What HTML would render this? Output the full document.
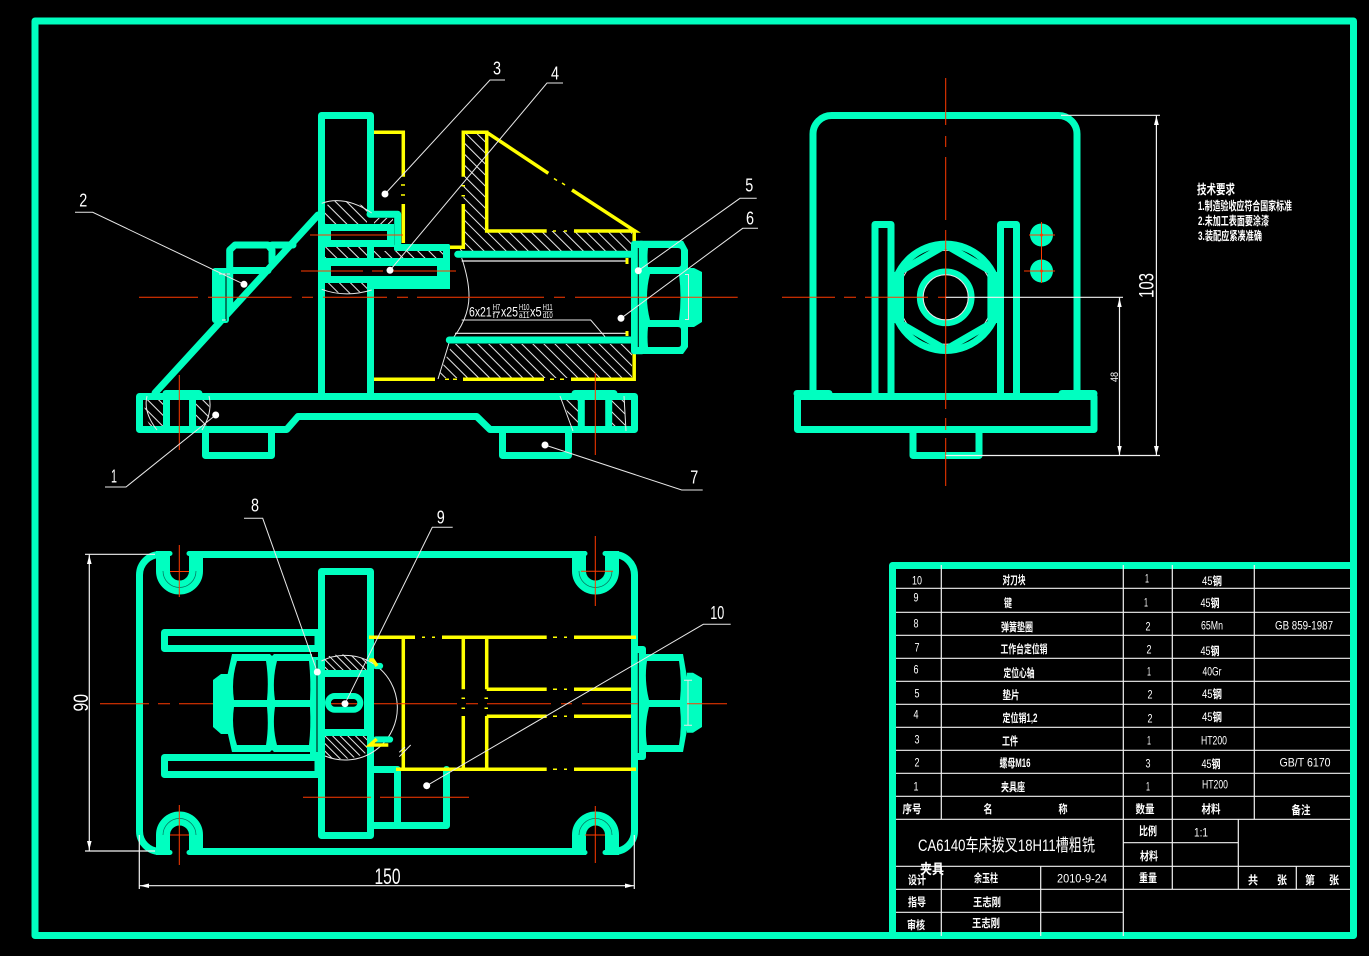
<!DOCTYPE html>
<html lang="zh">
<head>
<meta charset="utf-8">
<title>CA6140 夹具装配图</title>
<style>
html,body{margin:0;padding:0;background:#000;width:1369px;height:956px;overflow:hidden}
svg{display:block}
text{font-family:"Liberation Sans","Noto Sans CJK SC",sans-serif;fill:#fff}
tspan.o{font-weight:400}
.t{fill:none;stroke:#00ffc0;stroke-width:7;stroke-linejoin:round;stroke-linecap:round}
.f{fill:#00ffc0;stroke:none}
.k{fill:#000;stroke:none}
.y{fill:none;stroke:#ffff00;stroke-width:3.5;stroke-linejoin:miter}
.d{fill:none;stroke:#ffff00;stroke-width:1.5}
.r{fill:none;stroke:#ff3a00;stroke-width:1}
.w{fill:none;stroke:#e8e8e8;stroke-width:1}
.b{fill:none;stroke:#f2f2f2;stroke-width:1.2}
.n{font-size:18px}
.c{font-size:11.5px;font-weight:700}
.l{font-size:12px}
</style>
</head>
<body>
<svg width="1369" height="956" viewBox="0 0 1369 956" xmlns="http://www.w3.org/2000/svg">
<defs>
<pattern id="h1" patternUnits="userSpaceOnUse" width="7.8" height="7.8" patternTransform="rotate(-45)"><line x1="1" y1="0" x2="1" y2="7.8" stroke="#e8e8e8" stroke-width="1"/></pattern>
<pattern id="h2" patternUnits="userSpaceOnUse" width="5.4" height="5.4" patternTransform="rotate(-45)"><line x1="1" y1="0" x2="1" y2="5.4" stroke="#e8e8e8" stroke-width="1"/></pattern>
<pattern id="h3" patternUnits="userSpaceOnUse" width="5.4" height="5.4" patternTransform="rotate(45)"><line x1="1" y1="0" x2="1" y2="5.4" stroke="#e8e8e8" stroke-width="1"/></pattern>
<clipPath id="cc"><circle cx="341.7" cy="706.7" r="52.3"/></clipPath>
<clipPath id="cs"><rect x="891" y="230" width="109" height="140"/></clipPath>
</defs>
<rect width="1369" height="956" fill="#000"/>

<!-- frame -->
<rect x="35" y="21" width="1318.5" height="914.5" class="t"/>
<path d="M892.5 935V565.5H1353" class="t"/>

<!-- table -->
<g class="b">
<path d="M896 588.3H1350M896 612.3H1350M896 635.3H1350M896 658.3H1350M896 681.3H1350M896 704.3H1350M896 727.3H1350M896 750.3H1350M896 773.3H1350M896 796.3H1350M896 819.3H1350"/>
<path d="M1123.3 842.7H1238.3M896 866.3H1350M896 889.3H1350M896 912.3H1123.3"/>
<path d="M941.3 565V819.3M1123.3 565V936M1172.3 565V889.3M1254.3 565V819.3M941.3 866.3V936M1040.7 866.3V936M1238.3 819.3V889.3M1296.3 866.3V889.3"/>
</g>
<g text-anchor="middle">
<g class="l">
<text x="917" y="584.5" textLength="10" lengthAdjust="spacingAndGlyphs">10</text><text x="916" y="601.5" textLength="5" lengthAdjust="spacingAndGlyphs">9</text><text x="916" y="627.5" textLength="5" lengthAdjust="spacingAndGlyphs">8</text><text x="917" y="651.5" textLength="5" lengthAdjust="spacingAndGlyphs">7</text><text x="916" y="673.5" textLength="5" lengthAdjust="spacingAndGlyphs">6</text><text x="917" y="697.5" textLength="5" lengthAdjust="spacingAndGlyphs">5</text><text x="916" y="718.5" textLength="5" lengthAdjust="spacingAndGlyphs">4</text><text x="917" y="743.5" textLength="5" lengthAdjust="spacingAndGlyphs">3</text><text x="917" y="766.5" textLength="5" lengthAdjust="spacingAndGlyphs">2</text><text x="916" y="790.5" textLength="5" lengthAdjust="spacingAndGlyphs">1</text>
<text x="1147" y="582.5" textLength="4" lengthAdjust="spacingAndGlyphs">1</text><text x="1146" y="606.5" textLength="4" lengthAdjust="spacingAndGlyphs">1</text><text x="1148" y="630.5" textLength="5" lengthAdjust="spacingAndGlyphs">2</text><text x="1149" y="653.5" textLength="5" lengthAdjust="spacingAndGlyphs">2</text><text x="1149" y="675.5" textLength="4" lengthAdjust="spacingAndGlyphs">1</text><text x="1150" y="698.5" textLength="5" lengthAdjust="spacingAndGlyphs">2</text><text x="1150" y="722.5" textLength="5" lengthAdjust="spacingAndGlyphs">2</text><text x="1149" y="744.5" textLength="4" lengthAdjust="spacingAndGlyphs">1</text><text x="1148" y="767.5" textLength="5" lengthAdjust="spacingAndGlyphs">3</text><text x="1148" y="790.5" textLength="4" lengthAdjust="spacingAndGlyphs">1</text>
<text x="1212" y="629.5" textLength="22" lengthAdjust="spacingAndGlyphs">65Mn</text><text x="1212" y="675.5" textLength="19" lengthAdjust="spacingAndGlyphs">40Gr</text><text x="1214" y="744.5" textLength="26" lengthAdjust="spacingAndGlyphs">HT200</text><text x="1215" y="788.5" textLength="26" lengthAdjust="spacingAndGlyphs">HT200</text>
<text x="1304" y="629.5" textLength="58" lengthAdjust="spacingAndGlyphs">GB 859-1987</text><text x="1305" y="766.5" textLength="51" lengthAdjust="spacingAndGlyphs">GB/T  6170</text>
<text x="1201" y="836.5" textLength="14" lengthAdjust="spacingAndGlyphs">1:1</text><text x="1082" y="882.5" textLength="50" lengthAdjust="spacingAndGlyphs">2010-9-24</text>
</g>
<g class="c">
<text x="1014" y="584" textLength="23" lengthAdjust="spacingAndGlyphs">对刀块</text><text x="1008" y="607" textLength="8" lengthAdjust="spacingAndGlyphs">键</text><text x="1017" y="631" textLength="32" lengthAdjust="spacingAndGlyphs">弹簧垫圈</text><text x="1024" y="653" textLength="47" lengthAdjust="spacingAndGlyphs">工作台定位销</text><text x="1019" y="677" textLength="31" lengthAdjust="spacingAndGlyphs">定位心轴</text><text x="1011" y="699" textLength="17" lengthAdjust="spacingAndGlyphs">垫片</text><text x="1020" y="722" textLength="35" lengthAdjust="spacingAndGlyphs">定位销1,2</text><text x="1010" y="745" textLength="16" lengthAdjust="spacingAndGlyphs">工件</text><text x="1015" y="767" textLength="31" lengthAdjust="spacingAndGlyphs">螺母M16</text><text x="1013" y="791" textLength="24" lengthAdjust="spacingAndGlyphs">夹具座</text>
<text x="1212" y="585" textLength="20" lengthAdjust="spacingAndGlyphs"><tspan class="o">45</tspan>钢</text><text x="1210" y="607" textLength="19" lengthAdjust="spacingAndGlyphs"><tspan class="o">45</tspan>钢</text><text x="1210" y="655" textLength="19" lengthAdjust="spacingAndGlyphs"><tspan class="o">45</tspan>钢</text><text x="1212" y="698" textLength="20" lengthAdjust="spacingAndGlyphs"><tspan class="o">45</tspan>钢</text><text x="1212" y="721" textLength="20" lengthAdjust="spacingAndGlyphs"><tspan class="o">45</tspan>钢</text><text x="1211" y="768" textLength="19" lengthAdjust="spacingAndGlyphs"><tspan class="o">45</tspan>钢</text>
<text x="912" y="813" textLength="19" lengthAdjust="spacingAndGlyphs">序号</text><text x="988" y="813" textLength="9" lengthAdjust="spacingAndGlyphs">名</text><text x="1063" y="813" textLength="9" lengthAdjust="spacingAndGlyphs">称</text><text x="1145" y="813" textLength="19" lengthAdjust="spacingAndGlyphs">数量</text><text x="1211" y="813" textLength="19" lengthAdjust="spacingAndGlyphs">材料</text><text x="1301" y="814" textLength="19" lengthAdjust="spacingAndGlyphs">备注</text>
<text x="1148" y="835" textLength="18" lengthAdjust="spacingAndGlyphs">比例</text><text x="1149" y="860" textLength="18" lengthAdjust="spacingAndGlyphs">材料</text><text x="1148" y="882" textLength="18" lengthAdjust="spacingAndGlyphs">重量</text>
<text x="917" y="884" textLength="18" lengthAdjust="spacingAndGlyphs">设计</text><text x="986" y="882" textLength="24" lengthAdjust="spacingAndGlyphs">余玉柱</text><text x="917" y="906" textLength="18" lengthAdjust="spacingAndGlyphs">指导</text><text x="987" y="906" textLength="28" lengthAdjust="spacingAndGlyphs">王志刚</text><text x="916" y="929" textLength="18" lengthAdjust="spacingAndGlyphs">审核</text><text x="986" y="927" textLength="28" lengthAdjust="spacingAndGlyphs">王志刚</text>
<text x="1253" y="884" textLength="10" lengthAdjust="spacingAndGlyphs">共</text><text x="1282" y="884" textLength="10" lengthAdjust="spacingAndGlyphs">张</text><text x="1310" y="884" textLength="10" lengthAdjust="spacingAndGlyphs">第</text><text x="1334" y="884" textLength="10" lengthAdjust="spacingAndGlyphs">张</text>
</g>
<text x="1006.5" y="851" font-size="17" textLength="177" lengthAdjust="spacingAndGlyphs">CA6140车床拨叉18H11槽粗铣</text>
<text x="932" y="874" font-size="14" font-weight="700" textLength="24" lengthAdjust="spacingAndGlyphs">夹具</text>
</g>

<!-- technical notes -->
<g font-weight="700">
<text x="1197" y="194" font-size="13" textLength="38" lengthAdjust="spacingAndGlyphs">技术要求</text>
<text x="1198" y="210" font-size="12" textLength="94" lengthAdjust="spacingAndGlyphs">1.制造验收应符合国家标准</text>
<text x="1198" y="225" font-size="12" textLength="71" lengthAdjust="spacingAndGlyphs">2.未加工表面要涂漆</text>
<text x="1198" y="240" font-size="12" textLength="64" lengthAdjust="spacingAndGlyphs">3.装配应紧凑准确</text>
</g>

<!-- ========= RIGHT VIEW ========= -->
<path d="M813 393V134A18.5 18.5 0 0 1 831.5 115.5H1058.5A18.5 18.5 0 0 1 1077 134V393" class="t"/>
<rect x="797.5" y="396.5" width="296.5" height="33" class="t"/>
<path d="M797 393.5H829M1062 393.5H1094" class="t"/>
<path d="M913 430V455.5H979V430" class="t"/>
<path d="M875 396V224.5H891V396M1000.5 396V224.5H1016.5V396" class="t"/>
<circle cx="945.7" cy="297.3" r="47" class="w"/>
<g clip-path="url(#cs)"><circle cx="945.7" cy="297.3" r="53.2" class="t"/></g>
<path d="M945.7 245.1L990.9 271.2V323.4L945.7 349.5L900.5 323.4V271.2Z" class="t"/>
<rect x="894" y="272" width="6" height="51" class="f"/><rect x="991" y="272" width="6" height="51" class="f"/>
<circle cx="945.7" cy="297.3" r="25.7" class="t" style="stroke-width:6.3"/>
<circle cx="945.7" cy="297.3" r="22.5" class="w"/>
<circle cx="1041.5" cy="235" r="11.5" class="f"/><circle cx="1041.5" cy="271" r="11.5" class="f"/>
<g class="r">
<path d="M945.7 78V125M945.7 136V147M945.7 157V220M945.7 230V409M945.7 418V430M945.7 438V486"/>
<path d="M782 297.3H835M844 297.3H856M865 297.3H928M938 297.3H946"/>
<path d="M1029 235H1055M1041.5 222V283M1024 271H1055"/>
<circle cx="1041.5" cy="235" r="1" fill="#ff3a00"/><circle cx="1041.5" cy="271" r="1" fill="#ff3a00"/>
</g>
<g class="b">
<path d="M945.7 297.3H1123M1061 115.3H1160M945.7 455.5H1160M1156.4 115.3V455.5M1119.5 297.3V455.5"/>
</g>
<path d="M1156.4 116L1154 125H1158.8ZM1156.4 455L1154 446H1158.8ZM1119.5 298L1117.3 307H1121.7ZM1119.5 455L1117.3 446H1121.7Z" fill="#fff"/>
<text transform="translate(1153.5 298) rotate(-90)" font-size="21" textLength="25" lengthAdjust="spacingAndGlyphs">103</text>
<text transform="translate(1118 382) rotate(-90)" font-size="11" textLength="10" lengthAdjust="spacingAndGlyphs">48</text>

<!-- ========= MAIN VIEW ========= -->
<!-- base -->
<path d="M139.5 396.5H634.5V429.5H490L476.7 416.5H298L286.7 429.5H139.5Z" class="t"/>
<path d="M205.5 430V455.5H271.5V430M502.5 430V455.5H568.5V430" class="t"/>
<path d="M166.5 394V429M192.5 394V429M166 393.5H199M581.3 394V429M608.7 394V429M575 393.5H614" class="t"/>
<!-- rib -->
<path d="M155 393L318 215" class="t"/>
<!-- left bolt -->
<path d="M229.7 305V250L235 245H268L272 250V262M272 245H293M229.7 270.5H268" class="t"/>
<rect x="212" y="268" width="17" height="55" rx="3" class="f"/>
<path d="M226 273V321" stroke="#000" stroke-width="1"/>
<path d="M219 274H230M222 320H226" class="w"/>
<!-- plate -->
<path d="M321.5 396.5V115.5H370.5V214M370.5 286V396.5" class="t"/>
<path d="M370 214.3H397.7V247" class="t"/>
<rect x="318" y="224" width="76" height="7" class="f"/>
<rect x="325" y="231" width="6" height="9" class="f"/><rect x="387" y="231" width="7" height="16" class="f"/>
<rect x="318" y="240" width="76" height="7" class="f"/>
<rect x="394" y="244" width="56" height="7" rx="2" class="f"/><rect x="443" y="244" width="7" height="45" rx="2" class="f"/>
<rect x="367" y="247" width="7" height="11" class="f"/>
<rect x="318" y="258" width="132" height="8" class="f"/>
<rect x="325" y="266" width="6" height="10" class="f"/><rect x="437" y="266" width="13" height="23" class="f"/>
<rect x="318" y="276" width="132" height="13" rx="2" class="f"/>
<rect x="325" y="283" width="42" height="9" class="k"/>
<path d="M325 206L335 201H350L367 207V224H325Z" fill="url(#h1)"/>
<path d="M374 218H393V224H374Z" fill="url(#h3)"/>
<path d="M325 247H367V258H325ZM374 251H443V258H374Z" fill="url(#h1)"/>
<path d="M325 283H367V291L345 294L325 290Z" fill="url(#h1)"/>
<path d="M321.7 203.3Q345 195 371.7 213M321.7 289.3Q345 298 371.7 290" class="w"/>
<!-- base hatch -->
<path d="M146 400H163V426H150Q142 412 146 400Z" fill="url(#h1)"/>
<path d="M196 400H207Q213 412 206 426H196Z" fill="url(#h1)"/>
<path d="M563 400H578V426H572Z" fill="url(#h1)"/>
<path d="M612 400H625V426H612Z" fill="url(#h1)"/>
<path d="M147 396Q143 412 157 430M209 396Q213 412 202 430M560 396L573 431M624 396L626 431" class="w"/>
<!-- workpiece hatch -->
<path d="M464 133H486V231H632V251H458L463 247Z" fill="url(#h1)"/>
<path d="M452 344H632V378H438Z" fill="url(#h1)"/>
<path d="M461.7 258Q469 280 469 296Q469 320 449 343L438 379" class="w"/>
<path d="M461.7 261H628M455 333.3H628" class="b"/>
<path d="M627 258L627 264M627 331V336" stroke="#ffff00" stroke-width="3"/>
<!-- tube bands -->
<path d="M457.7 254.3H632M449.3 340H632" class="t"/>
<!-- yellow main -->
<g class="y">
<path d="M374 132.3H403.3V176.7M403.3 204V243M374 379.3H435M463 379.3H544M571 379.3H634.2V350"/>
<path d="M450 247.3H463.3V204M463.3 176.7V132.3H486.7V231H546.7M574 231H635L572 190M548.3 173.3L486.7 132.3M634.2 231V241"/>
</g>
<g class="d"><path d="M401 185H405M401 195H405M461.5 185.7H465M461.5 195.7H465M553 231H556M564 231H567M554 178.5L557 180.5M562 183L565 185M445 379.3H449M453 379.3H457M550 379.3H554M560 379.3H564"/></g>
<!-- right washer/nut main -->
<rect x="631" y="240.7" width="14" height="113.6" rx="3" class="f"/>
<path d="M640 240.7H683L688 250V347L683 354H640Z" class="f"/>
<path d="M688 268H694L702 272V322L694 327H688Z" class="f"/>
<path d="M648 248H678Q681 248 681 251V264Q681 267 678 267H648Q647 257 648 248Z" class="k"/>
<path d="M650 274H679Q682 297 679 320H650Q644 297 650 274Z" class="k"/>
<path d="M648 327H678Q681 327 681 330V344Q681 347 678 347H648Q647 337 648 327Z" class="k"/>
<path d="M638.3 248V347" stroke="#000" stroke-width="1"/>
<path d="M685 274.5H689M685 319.5H689M688.5 274.5V319.5" class="w"/>
<!-- callout text with tolerance fractions -->
<text x="469" y="316.5" font-size="14" textLength="22.7" lengthAdjust="spacingAndGlyphs">6x21</text>
<g font-size="8">
<text x="492.7" y="310" textLength="7.5" lengthAdjust="spacingAndGlyphs">H7</text><text x="492.7" y="318" textLength="7.5" lengthAdjust="spacingAndGlyphs">f7</text>
<text x="519" y="310" textLength="10.5" lengthAdjust="spacingAndGlyphs">H10</text><text x="519" y="318" textLength="10.5" lengthAdjust="spacingAndGlyphs">a11</text>
<text x="542.7" y="310" textLength="10" lengthAdjust="spacingAndGlyphs">H11</text><text x="542.7" y="318" textLength="10" lengthAdjust="spacingAndGlyphs">d10</text>
</g>
<path d="M492.7 311.5H500M519 311.5H529.5M542.7 311.5H552.7" class="w" style="stroke-width:.6"/>
<text x="501" y="316.5" font-size="14" textLength="17" lengthAdjust="spacingAndGlyphs">x25</text>
<text x="530" y="316.5" font-size="14" textLength="11.7" lengthAdjust="spacingAndGlyphs">x5</text>
<path d="M461.7 320H590.7L605 336.7" class="w"/>
<!-- red main -->
<g class="r">
<path d="M139 297.3H198M208 297.3H291.7M302 297.3H313M323 297.3H387M397 297.3H408M417 297.3H544M554 297.3H565M575 297.3H737.7"/>
<path d="M310 235H403M301 271H363M372 271H383M392 271H456M179.3 375V450M595.3 373V455"/>
</g>

<!-- ========= PLAN VIEW ========= -->
<path d="M163 554.5H160A20.5 20.5 0 0 0 139.5 575V831A20.5 20.5 0 0 0 160 851.5H163" class="t"/>
<path d="M192 554.5H581M612 554.5H614A20.5 20.5 0 0 1 634.5 575V831A20.5 20.5 0 0 1 614 851.5H612M192 851.5H581" class="t"/>
<g fill="none" stroke="#00ffc0" stroke-width="14" stroke-linejoin="round">
<path d="M163 551V571A16.5 16.5 0 0 0 196 571V551"/>
<path d="M163 855V835A16.5 16.5 0 0 1 196 835V855"/>
<path d="M579 551V571A16.5 16.5 0 0 0 612 571V551"/>
<path d="M579 855V835A16.5 16.5 0 0 1 612 835V855"/>
</g>
<rect x="134" y="541" width="64" height="10" class="k"/><rect x="574" y="541" width="44" height="10" class="k"/>
<rect x="155" y="855" width="45" height="10" class="k"/><rect x="574" y="855" width="44" height="10" class="k"/>
<g class="t" style="stroke-width:5"><path d="M158.5 553.5H170M189 553.5H200M158.5 852.5H170M189 852.5H200M575 553.5H585M605 553.5H616M575 852.5H585M605 852.5H616"/></g>
<g fill="none" stroke="#04705a" stroke-width="0.7">
<path d="M163 571A16.5 16.5 0 0 0 196 571M163 835A16.5 16.5 0 0 1 196 835M579 571A16.5 16.5 0 0 0 612 571M579 835A16.5 16.5 0 0 1 612 835"/>
</g>
<!-- plate plan -->
<rect x="321.5" y="571.5" width="49" height="264" class="t"/>
<path d="M164.5 632.5H318V648.5H164.5ZM164.5 757.5H318V774.5H164.5Z" class="t"/>
<!-- left nuts plan -->
<path d="M232 654H270L272 656L274 654H312V752H274L272 750L270 752H232L227 730V677Z" class="f"/>
<rect x="310" y="657" width="11" height="97" class="f"/>
<path d="M213 680L221 674H233V734H221L213 727Z" class="f"/>
<path d="M237 661H266Q269 680 267 700H234Q231 680 237 661Z" class="k"/>
<path d="M277 661H309Q311 680 310 700H275Q272 680 277 661Z" class="k"/>
<path d="M234 707H267Q269 727 266 745H237Q231 727 234 707Z" class="k"/>
<path d="M275 707H310Q311 727 309 745H277Q272 727 275 707Z" class="k"/>
<path d="M317 660V752" stroke="#000" stroke-width="1"/>
<!-- pin section -->
<rect x="318" y="670" width="49" height="7" class="f"/><rect x="318" y="729" width="49" height="7" class="f"/>
<rect x="364" y="670" width="10" height="66" class="f"/>
<g clip-path="url(#cc)"><rect x="325" y="650" width="42" height="20" fill="url(#h2)"/><rect x="325" y="736" width="42" height="25" fill="url(#h2)"/></g>
<path d="M321.5 661A52.3 52.3 0 1 1 325 756" class="w"/>
<rect x="328" y="696" width="32.3" height="13.7" rx="6.8" fill="none" stroke="#00ffc0" stroke-width="6"/>
<!-- key plan -->
<path d="M374 769.5H397.5V825.5M374 825.5H446.5V769.5" class="t"/>
<!-- teal blobs behind chevrons -->
<path d="M376 666H380M376 739.5H390" class="t" style="stroke-width:6.3"/>
<!-- yellow plan -->
<g class="y">
<path d="M369 637.3H415M442 637.3H546.7M574 637.3H636M486.7 689.3H546.7M574 689.3H636M486.7 716.3H546.7M574 716.3H636M396 769.3H546.7M574 769.3H636"/>
<path d="M403.3 637V769M463.3 637V689.3M463.3 716V769M486.7 637V689.3M486.7 716V769"/>
<path d="M369.3 660H373L377 666M376.7 739L370 745H388.3"/>
</g>
<g class="d"><path d="M422 637.3H425M432 637.3H435M553 637.3H557M564 637.3H567M553 689.3H557M564 689.3H567M553 716.3H557M564 716.3H567M553 769.3H557M564 769.3H567M461.5 698.3H465M461.5 708.3H465M484.5 698.3H488M484.5 708.3H488"/></g>
<!-- right nut plan -->
<rect x="631" y="646" width="15" height="114" rx="3" class="f"/>
<path d="M646 654H683L687 677V730L683 752H646Z" class="f"/>
<path d="M687 672.7H693L702 678V727L693 732.7H687Z" class="f"/>
<path d="M647 661H679Q682 680 680 700H649Q644 680 647 661Z" class="k"/>
<path d="M649 707H680Q682 727 679 745H647Q644 727 649 707Z" class="k"/>
<path d="M638.3 653V753" stroke="#000" stroke-width="1"/>
<path d="M684 680.3H692M684 725.3H692M688 680.3V725.3" class="w"/>
<!-- red plan -->
<g class="r">
<path d="M100 703.7H149M158 703.7H170M179 703.7H213M374 703.7H457M466 703.7H478M487 703.7H551M561 703.7H572M582 703.7H638M687 703.7H727M303 797.3H371M380 797.3H469"/>
<path d="M179.3 545V597M170 571.5H189M179.3 805V865M170 835H189M595.3 536V606M581 571.3H613M595.3 806V863M585 835H605M331 703.7H357"/>
</g>
<path d="M399.3 756.7L410.7 745M399.3 752.3L405 747" class="w"/>

<!-- dimensions plan -->
<g class="b">
<path d="M85 554.3H155M85 851H155M89.3 554.3V851M139.3 835V889M634.3 835V889M139.3 885.7H634.3"/>
</g>
<path d="M89.3 555L87 564H91.6ZM89.3 850L87 841H91.6ZM140 885.7L149 883.5V888ZM634 885.7L625 883.5V888Z" fill="#fff"/>
<text transform="translate(88 711.5) rotate(-90)" font-size="21" textLength="17.5" lengthAdjust="spacingAndGlyphs">90</text>
<text x="374.5" y="884" font-size="22" textLength="26" lengthAdjust="spacingAndGlyphs">150</text>

<!-- leaders -->
<g class="w">
<path d="M75 212.3H92.7L244 284.3M385 194L490 80H505M390 270.3L547 83H563M215.7 415L126 487H105M638.3 270.7L740 198.3H756.7M621 318.3L742.7 228.3H758M545 445L681.7 490H702.7M317.3 672L262.7 518.3H244M345 703.7L432.3 527.3H452.7M426.7 785.7L703.3 624.3H730.7"/>
</g>
<g fill="#fff">
<circle cx="244" cy="284.3" r="3.5"/><circle cx="385" cy="194" r="3.5"/><circle cx="390" cy="270.3" r="3.5"/><circle cx="215.7" cy="415" r="3.5"/><circle cx="638.3" cy="270.7" r="3.5"/><circle cx="621" cy="318.3" r="3.5"/><circle cx="545" cy="445" r="3.5"/><circle cx="317.3" cy="672" r="3.5"/><circle cx="345" cy="703.7" r="3.5"/><circle cx="426.7" cy="785.7" r="3.5"/>
</g>
<g class="n" text-anchor="middle">
<text x="83.3" y="206.5" textLength="8" lengthAdjust="spacingAndGlyphs">2</text>
<text x="497" y="74.5" textLength="8" lengthAdjust="spacingAndGlyphs">3</text>
<text x="555" y="79.5" textLength="8" lengthAdjust="spacingAndGlyphs">4</text>
<text x="114" y="482.5" textLength="6" lengthAdjust="spacingAndGlyphs">1</text>
<text x="749.3" y="191.5" textLength="8" lengthAdjust="spacingAndGlyphs">5</text>
<text x="750" y="224.5" textLength="8" lengthAdjust="spacingAndGlyphs">6</text>
<text x="694.3" y="483.5" textLength="8" lengthAdjust="spacingAndGlyphs">7</text>
<text x="255" y="511.5" textLength="8" lengthAdjust="spacingAndGlyphs">8</text>
<text x="440.7" y="523.5" textLength="8" lengthAdjust="spacingAndGlyphs">9</text>
<text x="717.3" y="619" textLength="14" lengthAdjust="spacingAndGlyphs">10</text>
</g>
</svg>
</body>
</html>
